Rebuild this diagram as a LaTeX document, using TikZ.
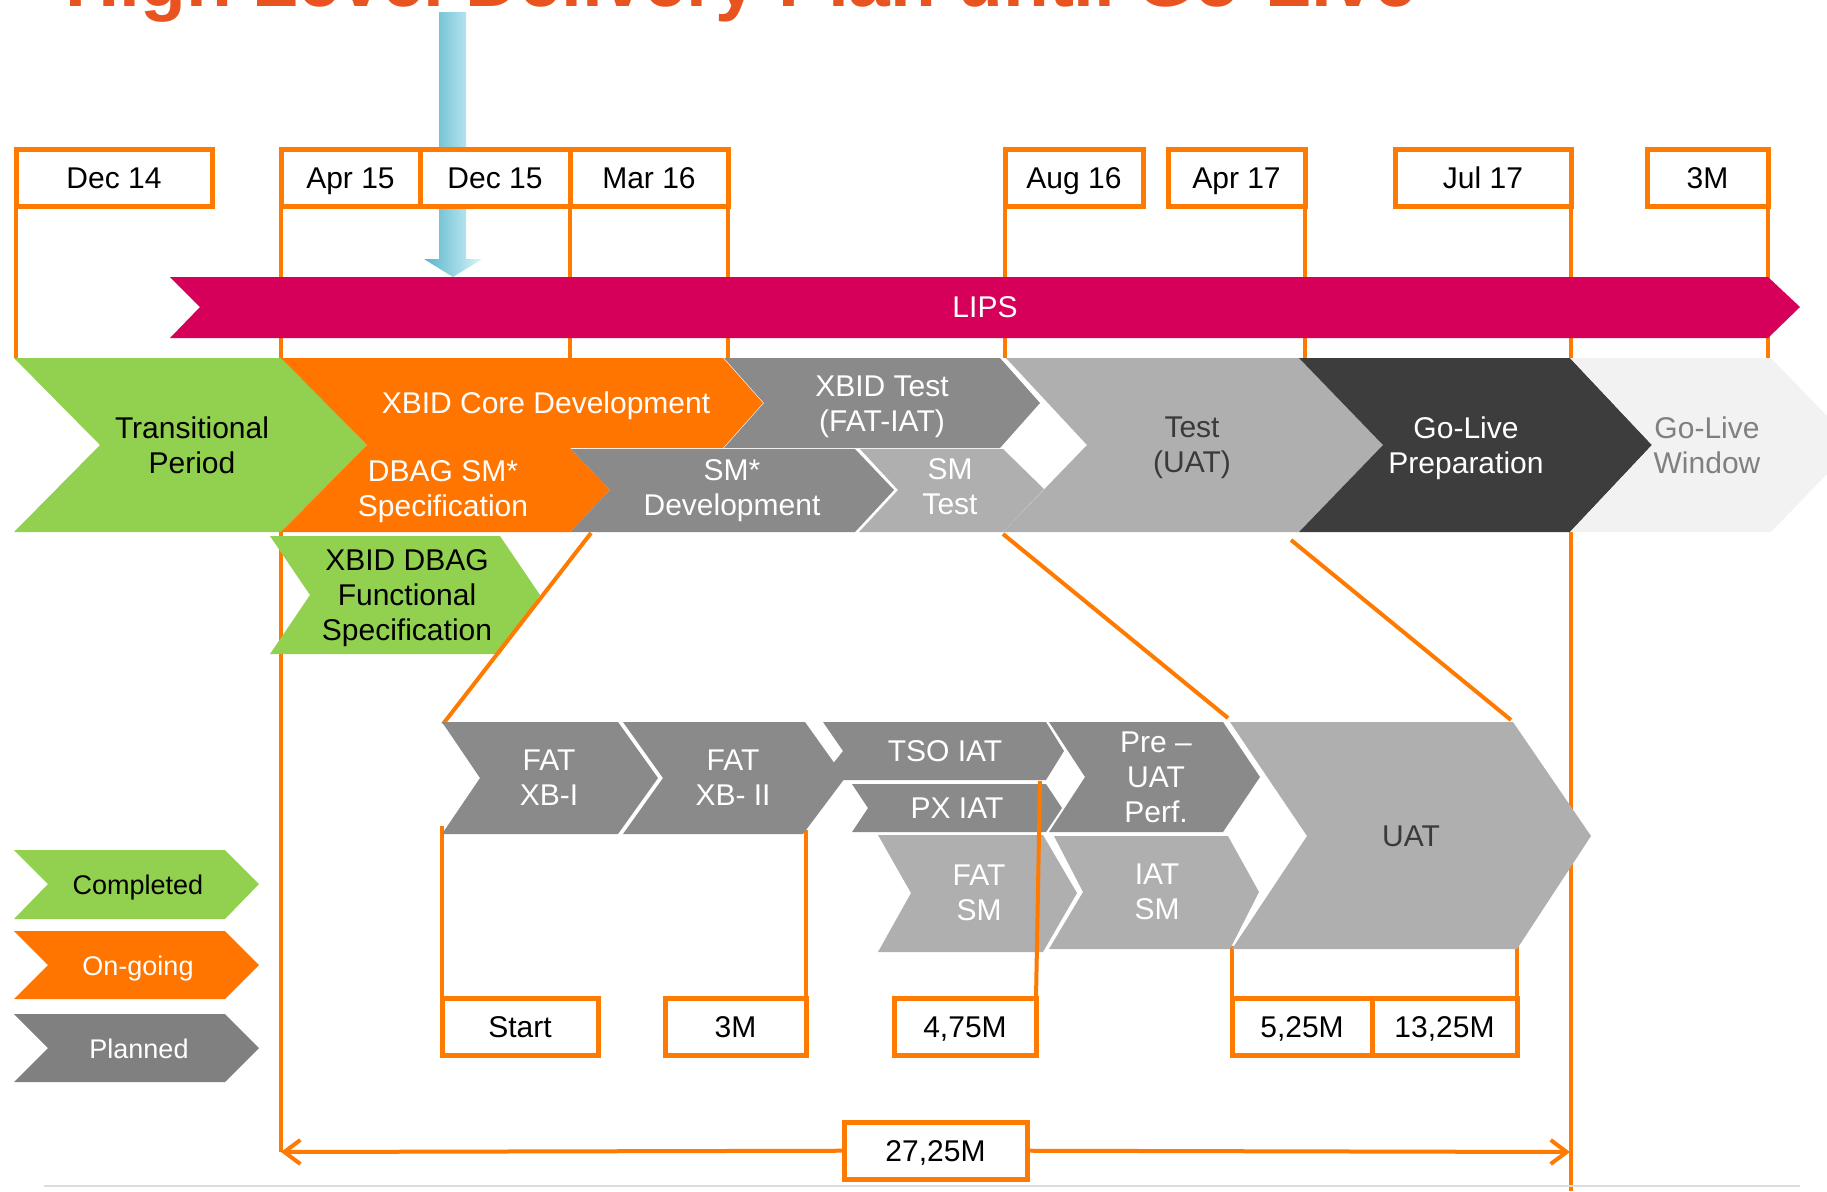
\documentclass[tikz,border=0pt]{standalone}
\usepackage{fontspec}
\setmainfont{Liberation Sans}
\usetikzlibrary{arrows.meta, positioning}

\definecolor{lineorange}{HTML}{FF7A00}
\definecolor{barorange}{HTML}{FF7500}
\definecolor{donegreen}{HTML}{92D050}
\definecolor{lipsred}{HTML}{D6005A}
\definecolor{midgray}{HTML}{8A8A8A}
\definecolor{lightgray}{HTML}{AFAFAF}
\definecolor{darkgray}{HTML}{3D3D3D}
\definecolor{palegray}{HTML}{F2F2F2}
\definecolor{legendgray}{HTML}{808080}
\definecolor{textdark}{HTML}{3A3A3A}
\definecolor{titleorange}{HTML}{E9531F}
\definecolor{arrowblue}{HTML}{58B4CB}
\definecolor{arrowpale}{HTML}{D6F5F9}
\definecolor{rulegray}{HTML}{DCDCDC}

\begin{document}
\begin{tikzpicture}[x=0.5pt, y=-0.5pt, >={Straight Barb[length=8pt, width=12pt]},
        phase/.style={align=center, inner sep=0, text depth=0pt,
            font=\fontsize{15}{17.5}\selectfont},
        keytext/.style={align=center, inner sep=0, text depth=0pt,
            font=\fontsize{13.5}{16}\selectfont},
        datebox/.style={draw=lineorange, line width=2.5pt, fill=white, inner sep=0, outer sep=0,
            text height=10.7pt, text depth=0pt,
            minimum width=#1, minimum height=28.5pt, font=\fontsize{15}{17.5}\selectfont},
        link/.style={draw=lineorange, line width=2pt}]
    \useasboundingbox (0,0) rectangle (1827,1191);
    \clip (0,0) rectangle (1827,1191);

    % title, cut by the top edge
    \node[anchor=base west, inner sep=0, text=titleorange, font=\fontsize{37.5}{40}\selectfont\bfseries] (title) at (65,6) {High Level Delivery Plan until Go-Live};

    % marker arrow
    \shade[left color=arrowblue, right color=arrowpale] (439,12) -- (466,12) -- (466,259) -- (482,259) -- (453,277) -- (424,259) -- (439,259) -- cycle;

    % milestones
    \node[datebox=98pt] (dec14) at (114,178) {Dec 14};
    \node[datebox=69.5pt] (apr15) at (350.5,178) {Apr 15};
    \node[datebox=75pt] (dec15) at (495,178) {Dec 15};
    \node[datebox=79pt] (mar16) at (649,178) {Mar 16};
    \node[datebox=69pt] (aug16) at (1074,178) {Aug 16};
    \node[datebox=68.5pt] (apr17) at (1236.5,178) {Apr 17};
    \node[datebox=88pt] (jul17) at (1483,178) {Jul 17};
    \node[datebox=60.5pt] (win3m) at (1707.5,178) {3M};

    \node[datebox=78pt] (start) at (520,1027) {Start};
    \node[datebox=70.5pt] (fat3m) at (735.5,1027) {3M};
    \node[datebox=71pt] (iat475) at (965,1027) {4,75M};
    \node[datebox=70pt] (pre525) at (1302,1027) {5,25M};
    \node[datebox=72.5pt] (uat1325) at (1444.5,1027) {13,25M};

    \coordinate (rowtop) at (0,358);
    \coordinate (pagefoot) at (0,1191);
    \coordinate (uatfoot) at (0,946);
    \coordinate (spanleft) at (281,1152);
    \coordinate (spanright) at (1570,1152);

    \draw[link] (dec14.south west) -- (dec14.south west |- rowtop);
    \draw[link] (apr15.south west) -- (spanleft);
    \draw[link] (dec15.south east) -- (dec15.south east |- rowtop);
    \draw[link] (mar16.south east) -- (mar16.south east |- rowtop);
    \draw[link] (aug16.south west) -- (aug16.south west |- rowtop);
    \draw[link] (apr17.south east) -- (apr17.south east |- rowtop);
    \draw[link] (jul17.south east) -- (jul17.south east |- pagefoot);
    \draw[link] (win3m.south east) -- (win3m.south east |- rowtop);

    % LIPS band
    \fill[lipsred] (170,277) -- (1768,277) -- (1800,307) -- (1768,338) -- (170,338) -- (200,307) -- cycle;
    \node[phase, text=white] (lips) at (985,307) {LIPS};

    % phases
    \fill[donegreen] (14,358) -- (281,358) -- (367,445) -- (281,532) -- (14,532) -- (100,445) -- cycle;
    \fill[barorange] (281,358) -- (723,358) -- (763,403) -- (723,448) -- (570,448) -- (610,490) -- (570,532) -- (281,532) -- (367,445) -- cycle;
    \fill[midgray] (724,358) -- (1000,358) -- (1040,403) -- (1000,448) -- (724,448) -- (764,403) -- cycle;
    \fill[midgray] (571,449) -- (855,449) -- (894,490) -- (855,532) -- (570,532) -- (610,490) -- cycle;
    \fill[lightgray] (860,449) -- (1003,449) -- (1044,489) -- (1003,532) -- (859,532) -- (898,490) -- cycle;
    \fill[lightgray] (1006,358) -- (1299,358) -- (1383,445) -- (1299,532) -- (1003,532) -- (1087,445) -- cycle;
    \fill[darkgray] (1299,358) -- (1570,358) -- (1652,445) -- (1570,532) -- (1299,532) -- (1383,445) -- cycle;
    \fill[palegray] (1570,358) -- (1771,358) -- (1855,445) -- (1771,532) -- (1570,532) -- (1652,445) -- cycle;
    \fill[donegreen] (270,536) -- (500,536) -- (540,595) -- (500,654) -- (270,654) -- (310,595) -- cycle;

    \node[phase] (transit) at (192,445) {Transitional\\Period};
    \node[phase, text=white] (coredev) at (546,403) {XBID Core Development};
    \node[phase, text=white] (smspec) at (443,489) {DBAG SM*\\Specification};
    \node[phase, text=white] (smdev) at (732,488) {SM*\\Development};
    \node[phase, text=white] (xbidtest) at (882,404) {XBID Test\\(FAT-IAT)};
    \node[phase, text=white] (smtest) at (950,487) {SM\\Test};
    \node[phase, text=textdark] (uattest) at (1192,445) {Test\\(UAT)};
    \node[phase, text=white] (goprep) at (1466,445) {Go-Live\\Preparation};
    \node[phase, text=legendgray] (gowin) at (1707,445) {Go-Live\\Window};
    \node[phase] (funcspec) at (407,595) {XBID DBAG\\Functional\\Specification};

    % zoom lines
    \coordinate (smdevfoot) at (591,533);
    \coordinate (fatonetop) at (443,724);
    \coordinate (uattestfoot) at (1003,534);
    \coordinate (uattopleft) at (1228,718);
    \coordinate (prepfoot) at (1291,540);
    \coordinate (uattopright) at (1511,720);
    \draw[link] (smdevfoot) -- (fatonetop);
    \draw[link] (uattestfoot) -- (uattopleft);
    \draw[link] (prepfoot) -- (uattopright);

    \coordinate (fatonefoot) at (442,826);
    \coordinate (fattwofoot) at (0,830);
    \draw[link] (start.north west) -- (fatonefoot);
    \draw[link] (fat3m.north east) -- (fat3m.north east |- fattwofoot);
    \draw[link] (pre525.north west) -- (pre525.north west |- uatfoot);
    \draw[link] (uat1325.north east) -- (uat1325.north east |- uatfoot);

    % test steps
    \fill[midgray] (442,722) -- (618,722) -- (658,778) -- (618,834) -- (442,834) -- (480,778) -- cycle;
    \fill[midgray] (623,722) -- (805,722) -- (845,778) -- (803,834) -- (623,834) -- (663,778) -- cycle;
    \fill[midgray] (823,722) -- (1046,722) -- (1064,751) -- (1046,780) -- (820,780) -- (843,751) -- cycle;
    \fill[midgray] (852,784) -- (1046,784) -- (1062,808) -- (1046,832) -- (852,832) -- (868,808) -- cycle;
    \fill[midgray] (1049,722) -- (1223,722) -- (1260,777) -- (1223,832) -- (1049,832) -- (1085,777) -- cycle;
    \fill[lightgray] (878,835) -- (1043,835) -- (1077,893) -- (1043,952) -- (878,952) -- (911,893) -- cycle;
    \fill[lightgray] (1054,836) -- (1228,836) -- (1259,892) -- (1230,949) -- (1049,949) -- (1083,892) -- cycle;
    \fill[lightgray] (1230,722) -- (1513,722) -- (1591,836) -- (1517,949) -- (1232,949) -- (1307,836) -- cycle;

    \node[phase, text=white] (fatone) at (549,778) {FAT\\XB-I};
    \node[phase, text=white] (fattwo) at (733,778) {FAT\\XB- II};
    \node[phase, text=white] (tsoiat) at (945,751) {TSO IAT};
    \node[phase, text=white] (pxiat) at (957,808) {PX IAT};
    \node[phase, text=white] (preuat) at (1156,777) {Pre –\\UAT\\Perf.};
    \node[phase, text=white] (fatsm) at (979,893) {FAT\\SM};
    \node[phase, text=white] (iatsm) at (1157,892) {IAT\\SM};
    \node[phase, text=textdark] (uat) at (1411,836) {UAT};

    \coordinate (pxtop) at (1040,781);
    \draw[link] (iat475.north east) -- (pxtop);

    % overall span
    \node[datebox=91.5pt] (total) at (935.5,1150.5) {27,25M};
    \draw[link, <-] (spanleft) -- (total);
    \draw[link, ->] (total) -- (spanright);

    % legend
    \fill[donegreen] (14,850) -- (225,850) -- (259,884) -- (225,919) -- (14,919) -- (48,884) -- cycle;
    \fill[barorange] (14,931) -- (225,931) -- (259,965) -- (225,999) -- (14,999) -- (48,965) -- cycle;
    \fill[legendgray] (14,1014) -- (225,1014) -- (259,1048) -- (225,1082) -- (14,1082) -- (48,1048) -- cycle;
    \node[keytext] (completed) at (138,885) {Completed};
    \node[keytext, text=white] (ongoing) at (138,966) {On-going};
    \node[keytext, text=white] (planned) at (139,1049) {Planned};

    \draw[rulegray, line width=1pt] (44,1186) -- (1800,1186);
\end{tikzpicture}
\end{document}
